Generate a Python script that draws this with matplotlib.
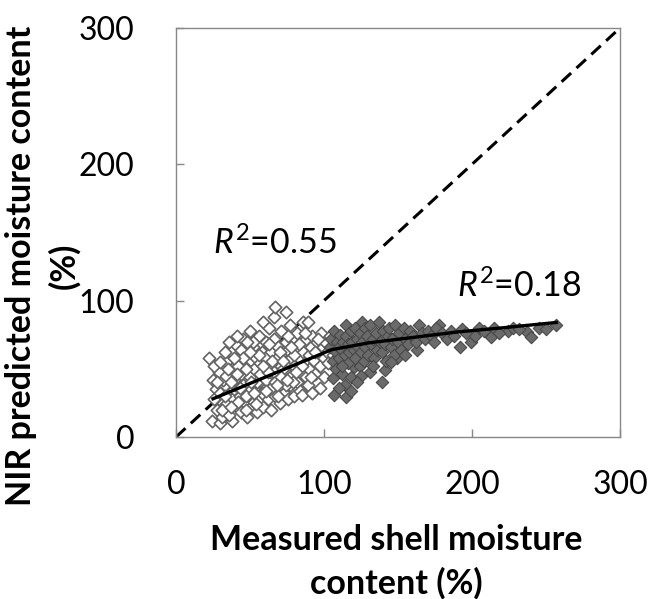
import matplotlib
matplotlib.use("Agg")
import matplotlib.pyplot as plt

# Datos

# diamantes blancos (rango bajo)
open_pts = [
    (22, 58), (25, 42), (24, 12), (30, 10), (26, 28), (28, 20), (27, 35), (29, 48), (31, 15), (32, 25),
    (33, 38), (34, 55), (35, 20), (35, 30), (36, 45), (37, 62), (38, 12), (38, 28), (39, 35), (40, 50),
    (40, 68), (41, 22), (42, 40), (43, 30), (43, 58), (44, 18), (45, 47), (45, 72), (46, 26), (46, 35),
    (47, 62), (48, 15), (48, 42), (49, 55), (50, 30), (50, 78), (51, 22), (51, 48), (52, 38), (52, 66),
    (53, 26), (54, 58), (54, 44), (55, 18), (55, 34), (56, 74), (56, 50), (57, 28), (58, 62), (58, 40),
    (59, 84), (59, 22), (60, 46), (60, 35), (61, 70), (62, 55), (62, 28), (63, 80), (63, 42), (64, 62),
    (64, 20), (65, 50), (65, 36), (66, 72), (66, 88), (67, 95), (67, 30), (68, 58), (68, 45), (69, 66),
    (70, 38), (70, 25), (71, 78), (71, 52), (72, 62), (73, 42), (73, 32), (74, 92), (74, 70), (75, 55),
    (75, 48), (76, 28), (76, 64), (77, 82), (77, 38), (78, 58), (78, 45), (79, 72), (80, 30), (80, 52),
    (81, 66), (82, 40), (82, 76), (83, 58), (84, 48), (84, 34), (85, 31), (85, 68), (86, 62), (86, 84),
    (87, 54), (88, 44), (88, 72), (89, 84), (89, 38), (90, 60), (90, 50), (91, 66), (92, 32), (92, 74),
    (93, 56), (94, 46), (95, 70), (96, 62), (97, 36), (97, 52), (98, 76), (99, 66), (100, 58), (100, 44),
    (101, 70), (102, 62), (103, 54), (104, 74), (105, 66), (106, 60),
    (30, 32), (32, 42), (34, 24), (36, 16), (38, 50), (40, 38), (42, 26), (44, 46), (46, 52), (47, 20),
    (49, 36), (50, 44), (53, 50), (55, 40), (57, 54), (58, 32), (61, 42), (64, 36), (66, 48), (69, 30),
    (72, 50), (74, 38), (26, 52), (28, 40), (30, 55), (33, 62), (36, 70), (41, 74), (44, 64), (52, 70),
    (48, 70), (39, 42), (31, 20), (34, 45), (37, 22), (42, 52), (45, 38), (54, 24), (60, 58), (63, 68),
    (70, 62), (76, 74), (79, 40), (83, 68), (87, 76), (91, 44), (94, 62), (96, 72), (80, 60), (67, 40),
    (57, 46), (45, 58), (62, 48), (71, 44), (85, 52),
    (33, 30), (37, 40), (41, 46), (43, 36), (47, 30), (51, 40), (53, 32), (56, 60), (59, 52), (61, 34),
    (65, 56), (68, 38), (72, 56), (75, 42), (78, 66), (81, 48), (35, 50), (39, 58), (47, 50), (50, 62),
]

# diamantes grises (rango alto)
filled_pts = [
    (107, 31), (115, 29), (106, 43), (120, 51), (131, 48), (141, 49), (139, 40), (149, 58), (163, 64),
    (192, 66), (199, 70), (178, 82), (205, 80), (213, 73), (224, 78), (237, 77), (240, 73), (257, 82),
    (115, 82), (126, 84),
    (104, 66), (105, 72), (106, 56), (107, 78), (108, 62), (108, 50), (109, 70), (110, 66), (110, 58),
    (111, 75), (112, 46), (112, 64), (113, 70), (114, 60), (114, 38), (115, 74), (116, 54), (116, 68),
    (117, 62), (118, 78), (118, 44), (119, 70), (120, 64), (121, 58), (121, 80), (122, 72), (123, 66),
    (124, 52), (124, 76), (125, 62), (126, 70), (127, 56), (128, 80), (128, 66), (129, 74), (130, 60),
    (131, 82), (132, 68), (133, 72), (134, 58), (135, 76), (136, 64), (137, 84), (138, 70), (139, 62),
    (140, 78), (141, 68), (142, 56), (143, 74), (144, 80), (145, 66), (146, 72), (147, 60), (148, 82),
    (150, 70), (151, 76), (152, 64), (154, 80), (155, 72), (157, 68), (158, 78), (160, 74), (162, 70),
    (164, 82), (166, 76), (168, 72), (170, 78), (172, 74), (174, 70), (176, 80), (180, 76), (183, 72),
    (186, 78), (188, 74), (193, 79), (196, 76), (202, 74), (208, 78), (215, 80), (218, 76), (228, 80),
    (232, 79), (245, 80), (250, 79), (110, 36), (118, 34), (125, 45), (133, 52), (145, 55), (155, 60),
    (122, 40), (112, 52),
]

# linea de tendencia
trend_x = [25, 45, 65, 85, 105, 130, 160, 190, 220, 257]
trend_y = [28, 37, 46, 55, 64, 69, 73, 77, 80, 84]

# linea 1:1
ref_x = [0, 300]
ref_y = [0, 300]

ticks = [0, 100, 200, 300]

plt.rcParams['font.family'] = ['Lato', 'DejaVu Sans']
plt.rcParams['mathtext.fontset'] = 'custom'
plt.rcParams['mathtext.rm'] = 'Lato'
plt.rcParams['mathtext.it'] = 'Lato:italic'

fig = plt.figure(figsize=(6.48, 5.99), dpi=100)
ax = fig.add_axes([0.2716, 0.2705, 0.6852, 0.6828])

ax.plot(ref_x, ref_y, color='black', lw=2.2, ls=(0, (4.2, 2.4)), zorder=1)

ox = [p[0] for p in open_pts]
oy = [p[1] for p in open_pts]
ax.scatter(ox, oy, marker='D', s=40, facecolor='white', edgecolor='#646464', linewidth=1.2, zorder=2)

fx = [p[0] for p in filled_pts]
fy = [p[1] for p in filled_pts]
ax.scatter(fx, fy, marker='D', s=40, facecolor='#6a6a6a', edgecolor='#484848', linewidth=0.8, zorder=3)

ax.plot(trend_x, trend_y, color='black', lw=2.4, zorder=4)

ax.text(25, 142, r'$R^2$=0.55', fontsize=24.5, va='center', ha='left')
ax.text(190, 111, r'$R^2$=0.18', fontsize=24.5, va='center', ha='left')

ax.set_xlim(0, 300)
ax.set_ylim(0, 300)
ax.set_xticks(ticks)
ax.set_yticks(ticks)
ax.tick_params(direction='in', length=6, width=1, color='#888888', labelsize=23)
ax.tick_params(axis='x', pad=24)
ax.tick_params(axis='y', pad=30)
for s in ax.spines.values():
    s.set_color('#888888')
    s.set_linewidth(1.0)

fig.text(0.611, 0.0626, 'Measured shell moisture\ncontent (%)', fontsize=24.5, fontweight='bold',
         ha='center', va='center', linespacing=1.4)
fig.text(0.066, 0.556, 'NIR predicted moisture content\n(%)', fontsize=24.5, fontweight='bold',
         ha='center', va='center', rotation=90, linespacing=1.4)

fig.savefig('out.png', dpi=100)
